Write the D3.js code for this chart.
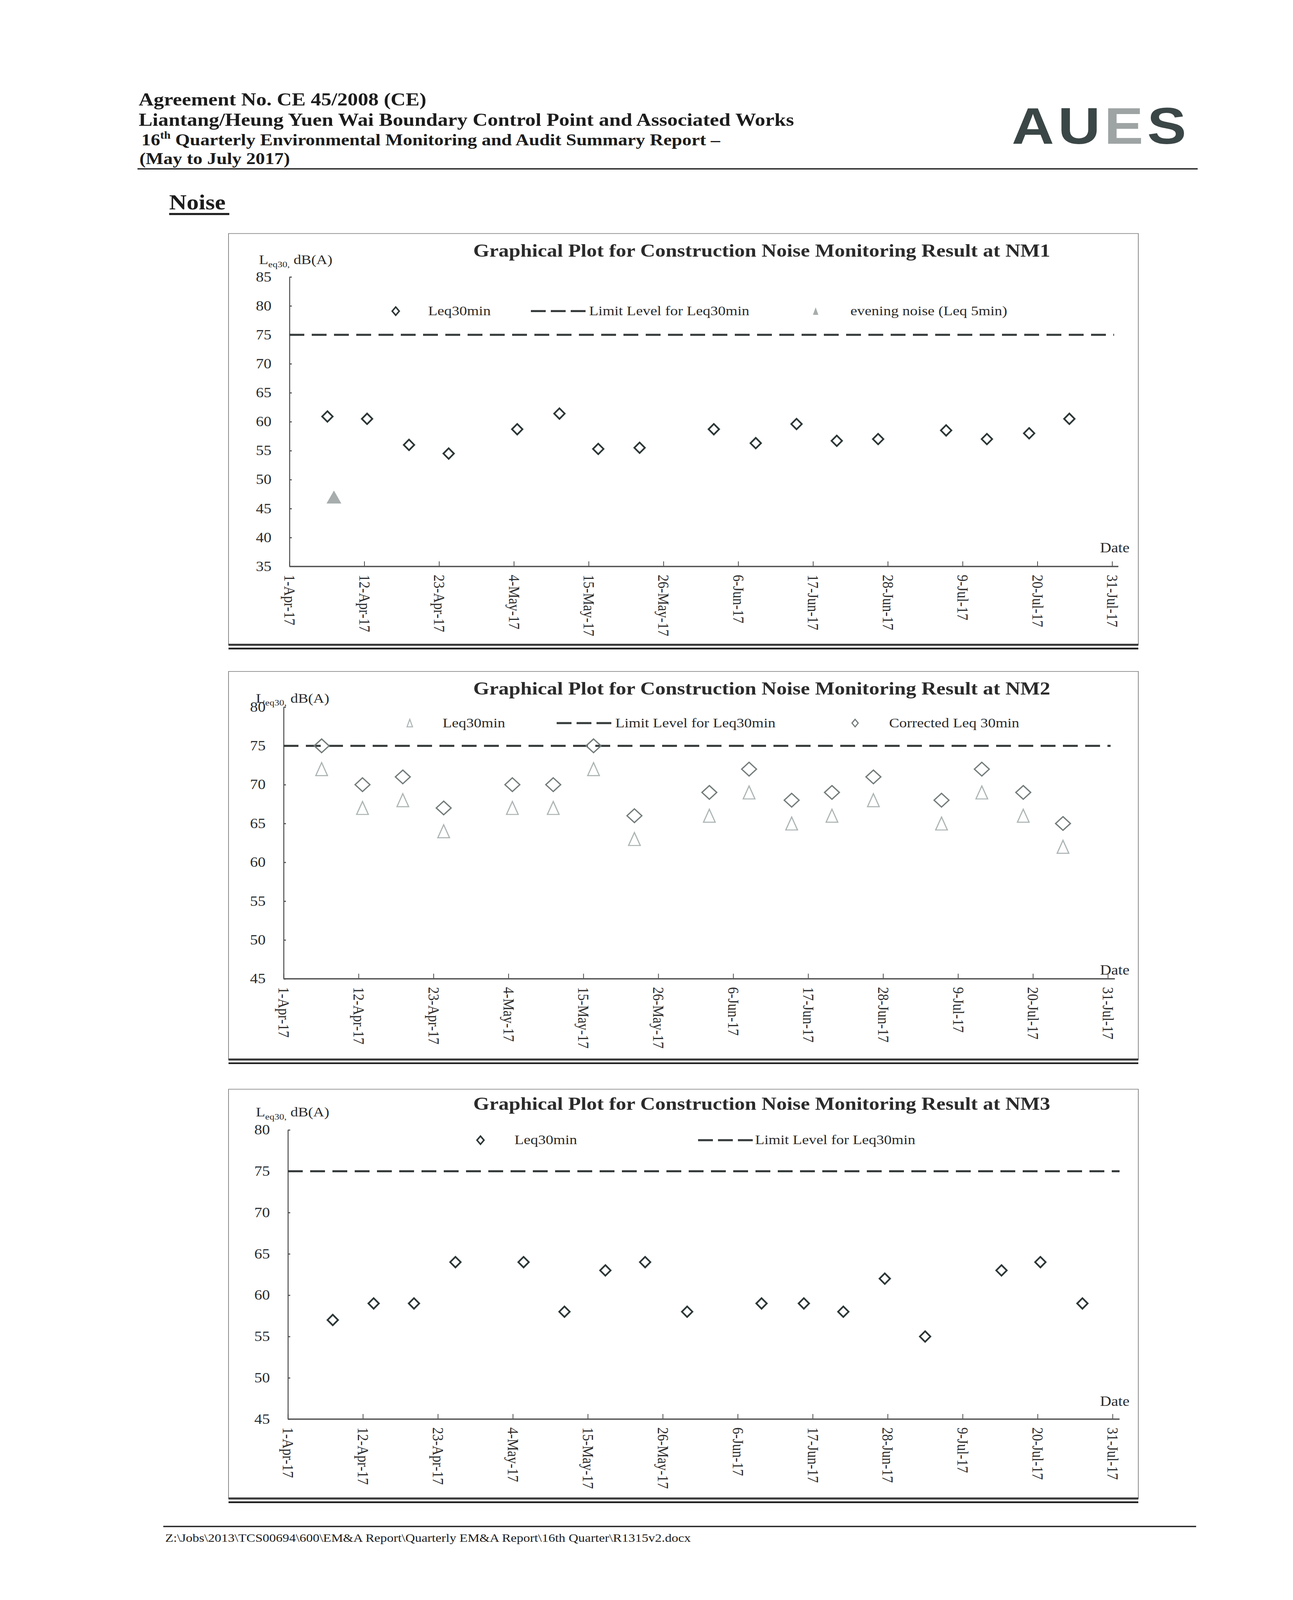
<!DOCTYPE html>
<html>
<head>
<meta charset="utf-8">
<script src="https://cdn.jsdelivr.net/npm/d3@7"></script>
<style>
  html, body { margin: 0; padding: 0; background: #fff; overflow: hidden; }
  svg { display: block; }
  text { font-family: "Liberation Serif", "Times New Roman", serif; }
</style>
</head>
<body>
<div id="page"></div>
<script>
// page size (drawing units); the svg is stretched to whatever the window gives
const W = 3310, H = 4680;

// data (date + approx time of monitoring, dB(A))
const tickLabels = ["1-Apr-17", "12-Apr-17", "23-Apr-17", "4-May-17", "15-May-17", "26-May-17",
                    "6-Jun-17", "17-Jun-17", "28-Jun-17", "9-Jul-17", "20-Jul-17", "31-Jul-17"];

const nm1Dates = ["2017-04-06 14:00", "2017-04-12 10:00", "2017-04-18 14:00", "2017-04-24 10:00",
                  "2017-05-04 12:00", "2017-05-10 17:00", "2017-05-16 10:00", "2017-05-22 12:00",
                  "2017-06-02 10:00", "2017-06-08 14:00", "2017-06-14 14:00", "2017-06-20 12:00",
                  "2017-06-26 14:00", "2017-07-06 14:00", "2017-07-12 14:00", "2017-07-18 19:00",
                  "2017-07-24 17:00"];
const nm1Leq30 = [60.9, 60.5, 56.0, 54.5, 58.7, 61.4, 55.3, 55.5, 58.7, 56.3, 59.6, 56.7, 57.0, 58.5, 57.0, 58.0, 60.5];
const nm1EveningDates = ["2017-04-07 13:00"];
const nm1Evening = [47];

const nm2Dates = ["2017-04-06 14:00", "2017-04-12 14:00", "2017-04-18 12:00", "2017-04-24 12:00",
                  "2017-05-04 14:00", "2017-05-10 14:00", "2017-05-16 12:00", "2017-05-22 12:00",
                  "2017-06-02 12:00", "2017-06-08 08:00", "2017-06-14 14:00", "2017-06-20 12:00",
                  "2017-06-26 14:00", "2017-07-06 14:00", "2017-07-12 12:00", "2017-07-18 14:00",
                  "2017-07-24 10:00"];
const nm2Leq30 = [72, 67, 68, 64, 67, 67, 72, 63, 66, 69, 65, 66, 68, 65, 69, 66, 62];
const nm2Corrected = [75, 70, 71, 67, 70, 70, 75, 66, 69, 72, 68, 69, 71, 68, 72, 69, 65];

const nm3Dates = ["2017-04-07 14:00", "2017-04-13 14:00", "2017-04-19 12:00", "2017-04-25 14:00",
                  "2017-05-05 14:00", "2017-05-11 14:00", "2017-05-17 14:00", "2017-05-23 10:00",
                  "2017-05-29 14:00", "2017-06-09 12:00", "2017-06-15 17:00", "2017-06-21 12:00",
                  "2017-06-27 14:00", "2017-07-03 12:00", "2017-07-14 17:00", "2017-07-20 10:00",
                  "2017-07-26 14:00"];
const nm3Leq30 = [57, 59, 59, 64, 64, 58, 63, 64, 58, 59, 59, 58, 62, 55, 63, 64, 59];

const limitLevel = 75;

const parseT = d3.utcParse("%Y-%m-%d %H:%M");
const parseTick = d3.utcParse("%-d-%b-%y");
const fmtTick = d3.utcFormat("%-d-%b-%y");

// the window may be shorter than the page, so fit the whole page into it
const vw = window.innerWidth || W, vh = window.innerHeight || H;
const svg = d3.select("#page").append("svg")
    .attr("width", vw).attr("height", vh)
    .attr("viewBox", [0, 0, W, H])
    .attr("preserveAspectRatio", "none");
svg.append("rect").attr("width", W).attr("height", H).attr("fill", "#fff");

// ---------- page header ----------
const header = svg.append("g").attr("fill", "#1c1c1c").attr("font-weight", "bold");
header.append("text").attr("x", 355).attr("y", 308).attr("font-size", 53)
    .text("Agreement No. CE 45/2008 (CE)");
header.append("text").attr("x", 355).attr("y", 368).attr("font-size", 53)
    .text("Liantang/Heung Yuen Wai Boundary Control Point and Associated Works");
let l3 = header.append("text").attr("x", 362).attr("y", 425).attr("font-size", 48);
l3.append("tspan").text("16");
l3.append("tspan").attr("font-size", 30).attr("dy", -19).text("th");
l3.append("tspan").attr("dy", 19).text(" Quarterly Environmental Monitoring and Audit Summary Report \u2013");
header.append("text").attr("x", 357).attr("y", 480).attr("font-size", 48)
    .text("(May to July 2017)");
svg.append("line").attr("x1", 352).attr("x2", 3066).attr("y1", 494).attr("y2", 494)
    .attr("stroke", "#2a2a2a").attr("stroke-width", 4);

// logo
const logo = svg.append("text").attr("x", 2590).attr("y", 421)
    .style("font-family", "'Liberation Sans', Arial, sans-serif")
    .attr("font-weight", "bold").attr("font-size", 150).attr("letter-spacing", 10);
logo.append("tspan").attr("fill", "#3b4646").text("AU");
logo.append("tspan").attr("fill", "#9ea4a4").text("E");
logo.append("tspan").attr("fill", "#3b4646").text("S");

// section heading
svg.append("text").attr("x", 433).attr("y", 613).attr("font-size", 62)
    .attr("font-weight", "bold").attr("fill", "#1c1c1c").text("Noise");
svg.append("line").attr("x1", 433).attr("x2", 587).attr("y1", 626).attr("y2", 626)
    .attr("stroke", "#1c1c1c").attr("stroke-width", 6);

// footer
svg.append("line").attr("x1", 418).attr("x2", 3062).attr("y1", 4465).attr("y2", 4465)
    .attr("stroke", "#2a2a2a").attr("stroke-width", 4);
svg.append("text").attr("x", 423).attr("y", 4510).attr("font-size", 34).attr("fill", "#1c1c1c")
    .text("Z:\\Jobs\\2013\\TCS00694\\600\\EM&A Report\\Quarterly EM&A Report\\16th Quarter\\R1315v2.docx");

// ---------- marker shapes ----------
function diamondPath(w, h) {
  return `M0,${-h / 2}L${w / 2},0L0,${h / 2}L${-w / 2},0Z`;
}
function trianglePath(w, h) {
  return `M0,${-h / 2}L${w / 2},${h / 2}L${-w / 2},${h / 2}Z`;
}

const markerStyles = {
  diamondDark:  { d: diamondPath(27, 31), fill: "#fff", stroke: "#2c3636", sw: 4.5, legend: diamondPath(18, 24) },
  triFilled:    { d: trianglePath(38, 38), fill: "#a7adad", stroke: "none", sw: 0, legend: trianglePath(14, 22) },
  diamondGrey:  { d: diamondPath(38, 40), fill: "none", stroke: "#737b7b", sw: 3.5, legend: diamondPath(16, 22) },
  triOpen:      { d: trianglePath(30, 38), fill: "none", stroke: "#acb4b4", sw: 3, legend: trianglePath(14, 22) }
};

// ---------- chart builder ----------
function drawChart(cfg) {
  const g = svg.append("g");

  // frame
  g.append("rect").attr("x", 585).attr("y", cfg.top).attr("width", 2329).attr("height", cfg.bottom - cfg.top)
      .attr("fill", "none").attr("stroke", "#8a8a8a").attr("stroke-width", 2);
  g.append("line").attr("x1", 585).attr("x2", 2914).attr("y1", cfg.bottom).attr("y2", cfg.bottom)
      .attr("stroke", "#3a3a3a").attr("stroke-width", 6);
  g.append("line").attr("x1", 585).attr("x2", 2914).attr("y1", cfg.bottom + 11).attr("y2", cfg.bottom + 11)
      .attr("stroke", "#222").attr("stroke-width", 5);

  const tickDates = tickLabels.map(parseTick);
  const x = d3.scaleUtc()
      .domain([tickDates[0], tickDates[tickDates.length - 1]])
      .range([cfg.x0, cfg.x1]);
  const y = d3.scaleLinear().domain(cfg.yDomain).range([cfg.yBottom, cfg.yTop]);

  // title
  g.append("text").attr("x", 1950).attr("y", cfg.titleY).attr("text-anchor", "middle")
      .attr("font-size", 53).attr("font-weight", "bold").attr("fill", "#2b2b2b")
      .text(cfg.title);

  // y title with subscript
  const yt = g.append("text").attr("x", cfg.yTitleX).attr("y", cfg.yTitleY)
      .attr("font-size", 39).attr("fill", "#2b2b2b");
  yt.append("tspan").text("L");
  yt.append("tspan").attr("font-size", 25).attr("dy", 9).text("eq30,");
  yt.append("tspan").attr("dy", -9).text(" dB(A)");

  // y axis
  const yTicks = d3.range(cfg.yDomain[0], cfg.yDomain[1] + 1, 5);
  const yAxis = g.append("g").attr("transform", `translate(${cfg.x0},0)`)
      .call(d3.axisLeft(y).tickValues(yTicks).tickSizeInner(-6).tickSizeOuter(0).tickPadding(46));
  yAxis.select(".domain").attr("stroke", "#4a4a4a").attr("stroke-width", 2.5);
  yAxis.selectAll(".tick line").attr("stroke", "#4a4a4a").attr("stroke-width", 3);
  yAxis.selectAll(".tick text").attr("font-size", 40).attr("fill", "#2b2b2b")
      .style("font-family", "'Liberation Serif', serif");

  // x axis
  const xAxis = g.append("g").attr("transform", `translate(0,${cfg.yBottom})`)
      .call(d3.axisBottom(x).tickValues(tickDates).tickFormat(fmtTick).tickSizeInner(-15).tickSizeOuter(0));
  xAxis.select(".domain").remove();
  xAxis.append("line").attr("x1", cfg.x0).attr("x2", cfg.axisEnd)
      .attr("stroke", "#555").attr("stroke-width", 4);
  xAxis.selectAll(".tick line").attr("stroke", "#4a4a4a").attr("stroke-width", 2);
  xAxis.selectAll(".tick text")
      .attr("font-size", 40).attr("fill", "#2b2b2b")
      .style("font-family", "'Liberation Serif', serif")
      .attr("text-anchor", "start")
      .attr("dy", null)
      .attr("y", 0)
      .attr("dominant-baseline", "central")
      .attr("transform", "translate(0,24) rotate(90)");

  g.append("text").attr("x", 2816).attr("y", cfg.dateY).attr("font-size", 40)
      .attr("fill", "#2b2b2b").text("Date");

  // limit level
  g.append("line").attr("x1", cfg.x0).attr("x2", cfg.limitEnd)
      .attr("y1", y(limitLevel)).attr("y2", y(limitLevel))
      .attr("stroke", "#363b3b").attr("stroke-width", 6).attr("stroke-dasharray", "38,19");

  // series
  cfg.series.forEach(s => {
    const st = markerStyles[s.marker];
    const pts = s.dates.map((d, i) => ({ t: parseT(d), v: s.values[i] }));
    g.append("g").selectAll("path").data(pts).join("path")
        .attr("transform", d => `translate(${x(d.t)},${y(d.v)})`)
        .attr("d", st.d).attr("fill", st.fill).attr("stroke", st.stroke)
        .attr("stroke-width", st.sw).attr("stroke-linejoin", "miter");
  });

  // legend
  cfg.legend.forEach(it => {
    if (it.marker === "dash") {
      g.append("line").attr("x1", it.x).attr("x2", it.x + 140).attr("y1", cfg.legendY).attr("y2", cfg.legendY)
          .attr("stroke", "#363b3b").attr("stroke-width", 6).attr("stroke-dasharray", "38,13");
    } else {
      const st = markerStyles[it.marker];
      g.append("path").attr("transform", `translate(${it.x},${cfg.legendY})`)
          .attr("d", st.legend).attr("fill", st.fill)
          .attr("stroke", st.stroke).attr("stroke-width", st.sw * 0.9);
    }
    g.append("text").attr("x", it.tx).attr("y", cfg.legendY + 12).attr("font-size", 39)
        .attr("fill", "#2b2b2b").text(it.label);
  });
}

drawChart({
  title: "Graphical Plot for Construction Noise Monitoring Result at NM1",
  top: 683, bottom: 1886,
  x0: 741, x1: 2847, axisEnd: 2863, limitEnd: 2852,
  yDomain: [35, 85], yBottom: 1657, yTop: 810,
  titleY: 751, yTitleX: 663, yTitleY: 772, dateY: 1616,
  legendY: 910,
  legend: [
    { marker: "diamondDark", x: 1013, tx: 1096, label: "Leq30min" },
    { marker: "dash", x: 1359, tx: 1508, label: "Limit Level for Leq30min" },
    { marker: "triFilled", x: 2088, tx: 2177, label: "evening noise (Leq 5min)" }
  ],
  series: [
    { marker: "diamondDark", dates: nm1Dates, values: nm1Leq30 },
    { marker: "triFilled", dates: nm1EveningDates, values: nm1Evening }
  ]
});

drawChart({
  title: "Graphical Plot for Construction Noise Monitoring Result at NM2",
  top: 1964, bottom: 3099,
  x0: 726, x1: 2836, axisEnd: 2854, limitEnd: 2843,
  yDomain: [45, 80], yBottom: 2863, yTop: 2068,
  titleY: 2031, yTitleX: 655, yTitleY: 2055, dateY: 2851,
  legendY: 2115,
  legend: [
    { marker: "triOpen", x: 1049, tx: 1133, label: "Leq30min" },
    { marker: "dash", x: 1425, tx: 1575, label: "Limit Level for Leq30min" },
    { marker: "diamondGrey", x: 2189, tx: 2276, label: "Corrected Leq 30min" }
  ],
  series: [
    { marker: "triOpen", dates: nm2Dates, values: nm2Leq30 },
    { marker: "diamondGrey", dates: nm2Dates, values: nm2Corrected }
  ]
});

drawChart({
  title: "Graphical Plot for Construction Noise Monitoring Result at NM3",
  top: 3186, bottom: 4383,
  x0: 737, x1: 2848, axisEnd: 2866, limitEnd: 2866,
  yDomain: [45, 80], yBottom: 4151, yTop: 3305,
  titleY: 3246, yTitleX: 655, yTitleY: 3266, dateY: 4112,
  legendY: 3335,
  legend: [
    { marker: "diamondDark", x: 1230, tx: 1317, label: "Leq30min" },
    { marker: "dash", x: 1787, tx: 1933, label: "Limit Level for Leq30min" }
  ],
  series: [
    { marker: "diamondDark", dates: nm3Dates, values: nm3Leq30 }
  ]
});
</script>
</body>
</html>
